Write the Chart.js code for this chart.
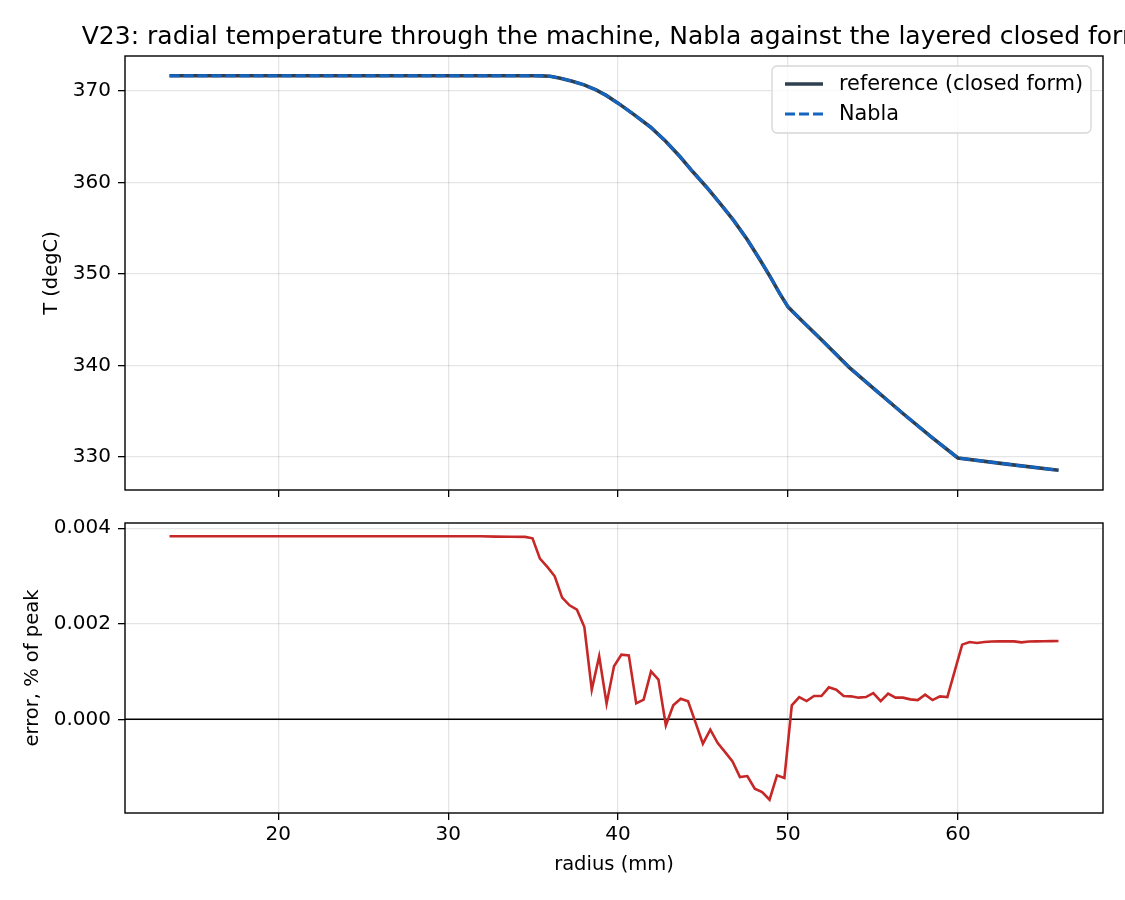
<!DOCTYPE html>
<html>
<head>
<meta charset="utf-8">
<script src="https://cdn.jsdelivr.net/npm/chart.js@4.4.1/dist/chart.umd.min.js"></script>
<style>
  html, body { margin: 0; padding: 0; background: #fff; }
  #wrap { position: relative; width: 1125px; height: 900px; }
  canvas { position: absolute; left: 0; }
</style>
</head>
<body>
<div id="wrap">
  <canvas id="temp-chart" width="1125" height="505" style="top:0"></canvas>
  <canvas id="err-chart" width="1125" height="395" style="top:505px"></canvas>
</div>
<script>
// --- data ---
const titleText = 'V23: radial temperature through the machine, Nabla against the layered closed form';

const tempRadius = [13.6, 35.0, 35.5, 36.0, 36.6, 37.3, 38.0, 38.7, 39.3, 40.0, 40.9, 41.9, 42.8, 43.65,
  44.4, 45.2, 46.0, 46.8, 47.6, 48.35, 49.0, 49.5, 50.0, 50.7, 52.0, 53.6, 55.0, 56.8, 58.5, 60.0, 63.0, 65.92];
const refTemp = [371.64, 371.64, 371.63, 371.58, 371.38, 371.05, 370.65, 370.1, 369.5, 368.65, 367.45, 366.05, 364.5, 362.8,
  361.15, 359.5, 357.7, 355.85, 353.75, 351.55, 349.55, 347.9, 346.4, 345.1, 342.75, 339.8, 337.55, 334.7, 332.1, 329.9, 329.2, 328.55];
const nablaTemp = [371.64, 371.64, 371.63, 371.58, 371.38, 371.05, 370.65, 370.1, 369.5, 368.65, 367.45, 366.05, 364.5, 362.8,
  361.15, 359.5, 357.7, 355.85, 353.75, 351.55, 349.55, 347.9, 346.4, 345.1, 342.75, 339.8, 337.55, 334.7, 332.1, 329.9, 329.2, 328.55];

const errRadius = [13.600, 31.912, 32.784, 33.656, 34.528,
  34.964, 35.400, 35.836, 36.272, 36.708, 37.144, 37.580, 38.016, 38.452, 38.888,
  39.324, 39.760, 40.196, 40.632, 41.068, 41.504, 41.940, 42.376, 42.812, 43.248,
  43.684, 44.120, 44.556, 44.992, 45.428, 45.864, 46.300, 46.736, 47.172, 47.608,
  48.044, 48.480, 48.916, 49.352, 49.788, 50.224, 50.660, 51.096, 51.532, 51.968,
  52.404, 52.840, 53.276, 53.712, 54.148, 54.584, 55.020, 55.456, 55.892, 56.328,
  56.764, 57.200, 57.636, 58.072, 58.508, 58.944, 59.380, 59.816, 60.252, 60.688,
  61.124, 61.560, 61.996, 62.432, 62.868, 63.304, 63.740, 64.176, 64.612, 65.048,
  65.484, 65.920];
const errPct = [0.003832, 0.003832, 0.003825, 0.003822, 0.003820,
  0.003790, 0.003365, 0.003190, 0.002995, 0.002548, 0.002387, 0.002297, 0.001933, 0.000622, 0.001319,
  0.000329, 0.001110, 0.001355, 0.001340, 0.000335, 0.000413, 0.001005, 0.000831, -0.000126, 0.000293,
  0.000433, 0.000377, -0.000063, -0.000509, -0.000216, -0.000496, -0.000685, -0.000880, -0.001208, -0.001187,
  -0.001451, -0.001522, -0.001682, -0.001173, -0.001229, 0.000293, 0.000467, 0.000383, 0.000488, 0.000488,
  0.000670, 0.000622, 0.000488, 0.000482, 0.000454, 0.000467, 0.000551, 0.000383, 0.000538, 0.000454,
  0.000454, 0.000419, 0.000404, 0.000517, 0.000404, 0.000482, 0.000467, 0.001016, 0.001564, 0.001619,
  0.001598, 0.001619, 0.001630, 0.001632, 0.001636, 0.001632, 0.001612, 0.001630, 0.001632, 0.001636,
  0.001638, 0.001640];

const radiusTicks = [20, 30, 40, 50, 60];
const tempTicks = [330, 340, 350, 360, 370];
const errTicks = [0, 0.002, 0.004];

// --- look ---
const FONT = "'DejaVu Sans', sans-serif";
const GRID = 'rgba(0,0,0,0.1)';
Chart.defaults.font.family = FONT;
Chart.defaults.font.size = 20;
Chart.defaults.color = '#000';

const pts = (xs, ys) => xs.map((x, i) => ({ x: x, y: ys[i] }));

function gridOpts() {
  return { color: GRID, lineWidth: 1.3, tickColor: '#000', tickLength: 7, tickWidth: 1.3 };
}

// keep the plot box where it is: no label overflow padding
function noOverflow(s) {
  s.paddingTop = 0; s.paddingBottom = 0; s.paddingLeft = 0; s.paddingRight = 0;
}

function xScale(withLabels) {
  return {
    type: 'linear', min: 10.98, max: 68.54,
    afterBuildTicks: s => { s.ticks = radiusTicks.map(v => ({ value: v })); },
    afterFit: s => { s.height = withLabels ? 70 : 10; noOverflow(s); },
    border: { display: false },
    grid: gridOpts(),
    ticks: { display: withLabels, padding: 3, maxRotation: 0, autoSkip: false },
    title: { display: withLabels, text: 'radius (mm)', font: { size: 19.5 }, padding: { top: 0, bottom: 6 } }
  };
}

function yScale(min, max, ticks, fmt, label, titlePad) {
  return {
    type: 'linear', min: min, max: max,
    afterBuildTicks: s => { s.ticks = ticks.map(v => ({ value: v })); },
    afterFit: s => { s.width = 125; noOverflow(s); },
    border: { display: false },
    grid: gridOpts(),
    ticks: { padding: 7, callback: fmt },
    title: { display: true, text: label, font: { size: 19.5 }, padding: { top: titlePad, bottom: 0 } }
  };
}

// axes frame (all four spines)
const framePlugin = {
  id: 'frame',
  afterDraw(chart) {
    const { ctx, chartArea: a } = chart;
    ctx.save();
    ctx.strokeStyle = '#000';
    ctx.lineWidth = 1.4;
    ctx.strokeRect(a.left, a.top, a.right - a.left, a.bottom - a.top);
    ctx.restore();
  }
};

// figure title + legend box on the top panel
const topDecor = {
  id: 'topDecor',
  afterDraw(chart) {
    const { ctx, chartArea: a } = chart;
    ctx.save();
    ctx.fillStyle = '#000';
    ctx.font = '25px ' + FONT;
    ctx.textAlign = 'center';
    ctx.textBaseline = 'middle';
    ctx.fillText(titleText, (a.left + a.right) / 2, 37);

    // legend
    const bx = a.right - 331, by = a.top + 10, bw = 319, bh = 67;
    ctx.beginPath();
    ctx.roundRect(bx, by, bw, bh, 5);
    ctx.fillStyle = 'rgba(255,255,255,0.8)';
    ctx.fill();
    ctx.strokeStyle = '#d6d6d6';
    ctx.lineWidth = 1.3;
    ctx.stroke();
    ctx.font = '20.8px ' + FONT;
    ctx.textAlign = 'left';
    chart.data.datasets.forEach((ds, i) => {
      const y = by + 18 + i * 30;
      ctx.beginPath();
      ctx.setLineDash(ds.borderDash || []);
      ctx.strokeStyle = ds.borderColor;
      ctx.lineWidth = ds.borderWidth;
      ctx.moveTo(bx + 13, y);
      ctx.lineTo(bx + 51, y);
      ctx.stroke();
      ctx.setLineDash([]);
      ctx.fillStyle = '#000';
      ctx.fillText(ds.label, bx + 67, y + 1);
    });
    ctx.restore();
  }
};

// y = 0 reference line on the error panel
const zeroLine = {
  id: 'zeroLine',
  beforeDatasetsDraw(chart) {
    const { ctx, chartArea: a, scales } = chart;
    const y = scales.y.getPixelForValue(0);
    ctx.save();
    ctx.strokeStyle = '#000';
    ctx.lineWidth = 1.5;
    ctx.beginPath();
    ctx.moveTo(a.left, y);
    ctx.lineTo(a.right, y);
    ctx.stroke();
    ctx.restore();
  }
};

const common = {
  responsive: false,
  devicePixelRatio: 1,
  animation: false,
  events: [],
  plugins: { legend: { display: false }, tooltip: { enabled: false }, title: { display: false } }
};

new Chart(document.getElementById('temp-chart'), {
  type: 'line',
  data: {
    datasets: [
      { label: 'reference (closed form)', data: pts(tempRadius, refTemp), borderColor: '#2e3f50',
        borderWidth: 3.6, pointRadius: 0, tension: 0, order: 2 },
      { label: 'Nabla', data: pts(tempRadius, nablaTemp), borderColor: '#1565c0',
        borderWidth: 3, borderDash: [10, 4], pointRadius: 0, tension: 0, order: 1 }
    ]
  },
  options: Object.assign({}, common, {
    layout: { padding: { top: 56, left: 0, right: 22, bottom: 5 } },
    scales: {
      x: xScale(false),
      y: yScale(326.4, 373.8, tempTicks, v => v.toFixed(0), 'T (degC)', 40)
    }
  }),
  plugins: [framePlugin, topDecor]
});

new Chart(document.getElementById('err-chart'), {
  type: 'line',
  data: {
    datasets: [
      { label: 'error', data: pts(errRadius, errPct), borderColor: '#c62828',
        borderWidth: 2.6, pointRadius: 0, tension: 0 }
    ]
  },
  options: Object.assign({}, common, {
    layout: { padding: { top: 18, left: 0, right: 22, bottom: 17 } },
    scales: {
      x: xScale(true),
      y: yScale(-0.00196, 0.00411, errTicks, v => v.toFixed(3), 'error, % of peak', 21)
    }
  }),
  plugins: [framePlugin, zeroLine]
});
</script>
</body>
</html>
